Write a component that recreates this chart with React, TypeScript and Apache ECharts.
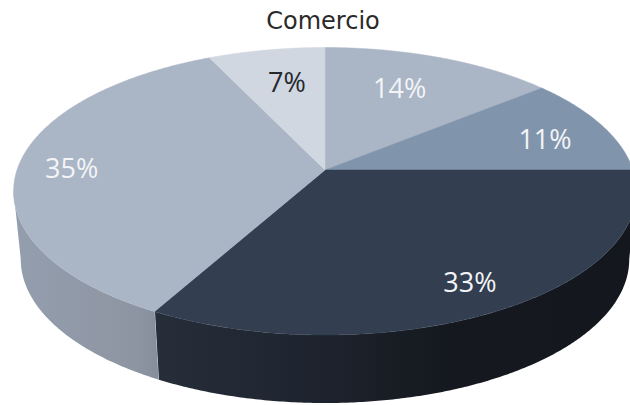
import React, { useEffect, useRef } from "react";
import * as echarts from "echarts";

const categories = ["A", "B", "C", "D", "E"];
const shares = [14, 11, 33, 35, 7];
const labels = ["14%", "11%", "33%", "35%", "7%"];
const labelRadius = [0.697, 0.773, 0.827, 0.825, 0.703];
const labelTurn = [-2.8, 2.6, 0, -0.5, 1.4];
const topColors = ["#aab5c5", "#8094ac", "#333f50", "#aab5c5", "#d0d7e1"];
const labelColors = ["#f2f4f7", "#f2f4f7", "#f2f4f7", "#f2f4f7", "#26282c"];

// Perspective view of the pie's unit circle
const CX = 325;
const APEX_Y = 170;
const SCALE_X = 308;
const SCALE_Y = 115.5;
const K = -0.1478;
const DEPTH = 68;
const WALL_SHRINK = 0.977;
const EDGE_V = 0.146; // v at which the outline turns from top rim to wall

function project(thetaDeg: number, r = 1): [number, number] {
  const t = (thetaDeg * Math.PI) / 180;
  const u = Math.sin(t) * r;
  const v = -Math.cos(t) * r;
  const w = 1 + K * v;
  return [CX + (SCALE_X * u) / w, (SCALE_Y * v + APEX_Y) / w];
}

function lower(p: [number, number]): [number, number] {
  return [CX + (p[0] - CX) * WALL_SHRINK, p[1] + DEPTH];
}

function wallGradient(i: number) {
  const stops =
    i === 2
      ? [
          { offset: 0, color: "#262e3a" },
          { offset: 0.3, color: "#1f2530" },
          { offset: 0.6, color: "#15191f" },
          { offset: 1, color: "#14171d" },
        ]
      : [
          { offset: 0, color: "#939eae" },
          { offset: 0.55, color: "#9098a6" },
          { offset: 0.85, color: "#8e95a2" },
          { offset: 1, color: "#868d9b" },
        ];
  return new echarts.graphic.LinearGradient(0, 0, 1, 0, stops);
}

const total = shares.reduce((a, b) => a + b, 0);
const WALL_FROM = (Math.acos(-EDGE_V) * 180) / Math.PI;
const WALL_TO = 360 - WALL_FROM;

function renderSlice(params: any, api: any) {
  const i = params.dataIndex;
  let before = 0;
  for (let k = 0; k < i; k++) before += shares[k];
  const a0 = (before / total) * 360;
  const a1 = a0 + (api.value(0) / total) * 360;
  const children: any[] = [];

  // side wall, only where the rim faces the viewer
  const w0 = Math.max(a0, WALL_FROM);
  const w1 = Math.min(a1, WALL_TO);
  if (w1 > w0) {
    const rim: [number, number][] = [];
    for (let t = w0; t < w1; t += 0.5) rim.push(project(t));
    rim.push(project(w1));
    const points = [...rim, ...rim.slice().reverse().map(lower)];
    children.push({
      type: "polygon",
      shape: { points },
      style: { fill: wallGradient(i), stroke: null },
    });
  }

  // top face
  const face: [number, number][] = [project(0, 0)];
  for (let t = a0; t < a1; t += 0.5) face.push(project(t));
  face.push(project(a1));
  children.push({
    type: "polygon",
    shape: { points: face },
    style: { fill: topColors[i], stroke: topColors[i], lineWidth: 0.5 },
  });

  // light seam where the two walls meet
  if (a1 > WALL_FROM && a1 < WALL_TO) {
    const p = project(a1);
    const q = lower(p);
    children.push({
      type: "line",
      shape: { x1: p[0], y1: p[1], x2: q[0], y2: q[1] },
      style: { stroke: "#c8d0da", lineWidth: 1 },
    });
  }

  const mid = project((a0 + a1) / 2 + labelTurn[i], labelRadius[i]);
  children.push({
    type: "text",
    z2: 10,
    style: {
      text: labels[i],
      x: mid[0],
      y: mid[1],
      align: "center",
      verticalAlign: "middle",
      fill: labelColors[i],
      font: '400 27px "Open Sans"',
    },
  });
  return { type: "group", children };
}

export default function App() {
  const ref = useRef<HTMLDivElement>(null);
  useEffect(() => {
    document.body.style.margin = "0";
    const chart = echarts.init(ref.current!, null, { renderer: "svg" });
    chart.setOption({
      animation: false,
      backgroundColor: "#ffffff",
      title: {
        text: "Comercio",
        left: 318,
        textAlign: "center",
        top: 4,
        textStyle: {
          fontFamily: "DejaVu Sans",
          fontWeight: 400,
          fontSize: 24,
          color: "#2a2a2a",
        },
      },
      series: [
        {
          type: "custom",
          coordinateSystem: "none",
          renderItem: renderSlice,
          data: shares.map((v, i) => ({ name: categories[i], value: [v] })),
        },
      ],
    });
    return () => chart.dispose();
  }, []);
  return <div ref={ref} style={{ width: 630, height: 405 }} />;
}
